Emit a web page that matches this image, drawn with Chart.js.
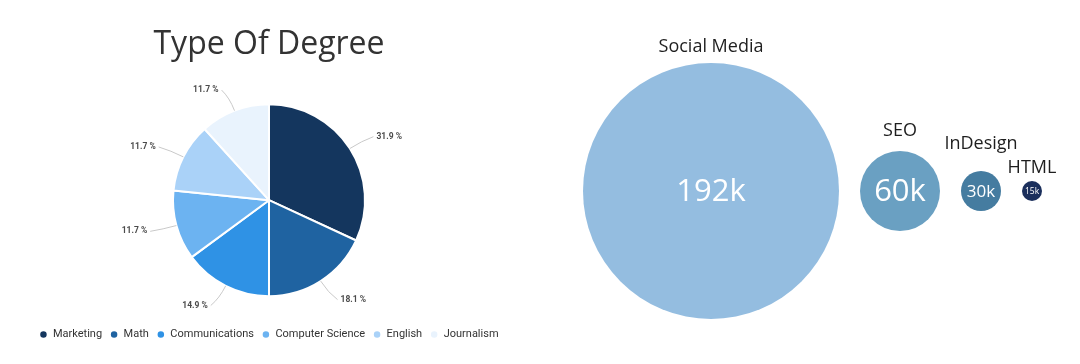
<!DOCTYPE html>
<html>
<head>
<meta charset="utf-8">
<script src="https://cdn.jsdelivr.net/npm/chart.js@4/dist/chart.umd.min.js"></script>
<style>
  body { margin: 0; background: #fff; }
  #degreeChart { position: absolute; left: 0; top: 0; }
  #skillChart { position: absolute; left: 538px; top: 0; }
</style>
</head>
<body>
<canvas id="degreeChart" width="538" height="364"></canvas>
<canvas id="skillChart" width="542" height="364"></canvas>
<script>
const degreeLabels = ['Marketing', 'Math', 'Communications', 'Computer Science', 'English', 'Journalism'];
const degreeShares = [31.9, 18.1, 14.9, 11.7, 11.7, 11.7];
const degreeColors = ['#14365e', '#1f63a1', '#2f92e5', '#6cb3f1', '#aad2f8', '#e9f3fd'];

const skillLabels = ['Social Media', 'SEO', 'InDesign', 'HTML'];
const skillValues = [192, 60, 30, 15]; // thousands
const skillColors = ['#94bde0', '#6aa0c2', '#457ca0', '#1b2f5c'];

// how far each name sits above its bubble (px), so they don't collide
const labelGaps = [11, 15, 22, 8];

// pie labels outside with little connector lines
const pieCallouts = {
  id: 'pieCallouts',
  afterDatasetsDraw(chart) {
    const ctx = chart.ctx;
    const meta = chart.getDatasetMeta(0);
    ctx.save();
    meta.data.forEach((arc, i) => {
      const mid = (arc.startAngle + arc.endAngle) / 2;
      const cos = Math.cos(mid), sin = Math.sin(mid);
      const r = arc.outerRadius;
      const dir = cos >= 0 ? 1 : -1;
      const x0 = arc.x + cos * r, y0 = arc.y + sin * r;
      const x1 = arc.x + cos * (r + 14), y1 = arc.y + sin * (r + 14);
      const x2 = arc.x + cos * (r + 22) + dir * 5, y2 = arc.y + sin * (r + 22);
      ctx.beginPath();
      ctx.moveTo(x0, y0);
      ctx.quadraticCurveTo(x1, y1, x2, y2);
      ctx.strokeStyle = '#c9c9c9';
      ctx.lineWidth = 1;
      ctx.stroke();
      ctx.font = 'bold 8.5px Roboto';
      ctx.fillStyle = '#4a4a4a';
      ctx.textBaseline = 'middle';
      ctx.textAlign = dir > 0 ? 'left' : 'right';
      ctx.fillText(degreeShares[i].toFixed(1) + ' %', x2 + dir * 3, y2);
    });
    ctx.restore();
  }
};

new Chart(document.getElementById('degreeChart'), {
  type: 'pie',
  data: {
    labels: degreeLabels,
    datasets: [{
      data: degreeShares,
      backgroundColor: degreeColors,
      borderColor: '#fff',
      borderWidth: 2,
      radius: 96
    }]
  },
  options: {
    responsive: false,
    animation: false,
    layout: { padding: { bottom: 14 } },
    plugins: {
      title: {
        display: true,
        text: 'Type Of Degree',
        color: '#333',
        font: { family: 'Open Sans', size: 32, weight: 'normal' },
        padding: { top: 26, bottom: 15 }
      },
      legend: {
        position: 'bottom',
        labels: {
          usePointStyle: true,
          pointStyle: 'circle',
          boxWidth: 8,
          boxHeight: 6,
          padding: 8,
          color: '#333',
          font: { family: 'Roboto', size: 11 }
        }
      },
      tooltip: { enabled: false }
    }
  },
  plugins: [pieCallouts]
});

// bubbles sit side by side, radius grows linearly with the value
const pxPerK = 2 / 3;
const bubbleStart = 45;
const bubbleGap = 21;
let cursor = bubbleStart;
const skillPoints = skillValues.map(v => {
  const r = v * pxPerK;
  const pt = { x: cursor + r, y: 0, r: r };
  cursor += 2 * r + bubbleGap;
  return pt;
});

const bubbleText = {
  id: 'bubbleText',
  afterDatasetsDraw(chart) {
    const ctx = chart.ctx;
    const meta = chart.getDatasetMeta(0);
    ctx.save();
    ctx.textAlign = 'center';
    meta.data.forEach((el, i) => {
      const r = skillPoints[i].r;
      ctx.fillStyle = '#1e1e1e';
      ctx.font = '18px "Open Sans"';
      ctx.textBaseline = 'alphabetic';
      ctx.fillText(skillLabels[i], el.x, el.y - r - labelGaps[i]);
      ctx.fillStyle = '#fff';
      ctx.font = Math.min(r * 0.85, 31).toFixed(1) + 'px "Open Sans"';
      ctx.textBaseline = 'middle';
      ctx.fillText(skillValues[i] + 'k', el.x, el.y + 1);
    });
    ctx.restore();
  }
};

new Chart(document.getElementById('skillChart'), {
  type: 'bubble',
  data: {
    labels: skillLabels,
    datasets: [{
      data: skillPoints,
      backgroundColor: skillColors,
      borderWidth: 0,
      hoverRadius: 0
    }]
  },
  options: {
    responsive: false,
    animation: false,
    layout: { autoPadding: false, padding: { top: 18 } },
    plugins: {
      legend: { display: false },
      tooltip: { enabled: false }
    },
    scales: {
      x: { display: false, min: 0, max: 542 },
      y: { display: false, min: -1, max: 1 }
    }
  },
  plugins: [bubbleText]
});
</script>
</body>
</html>
